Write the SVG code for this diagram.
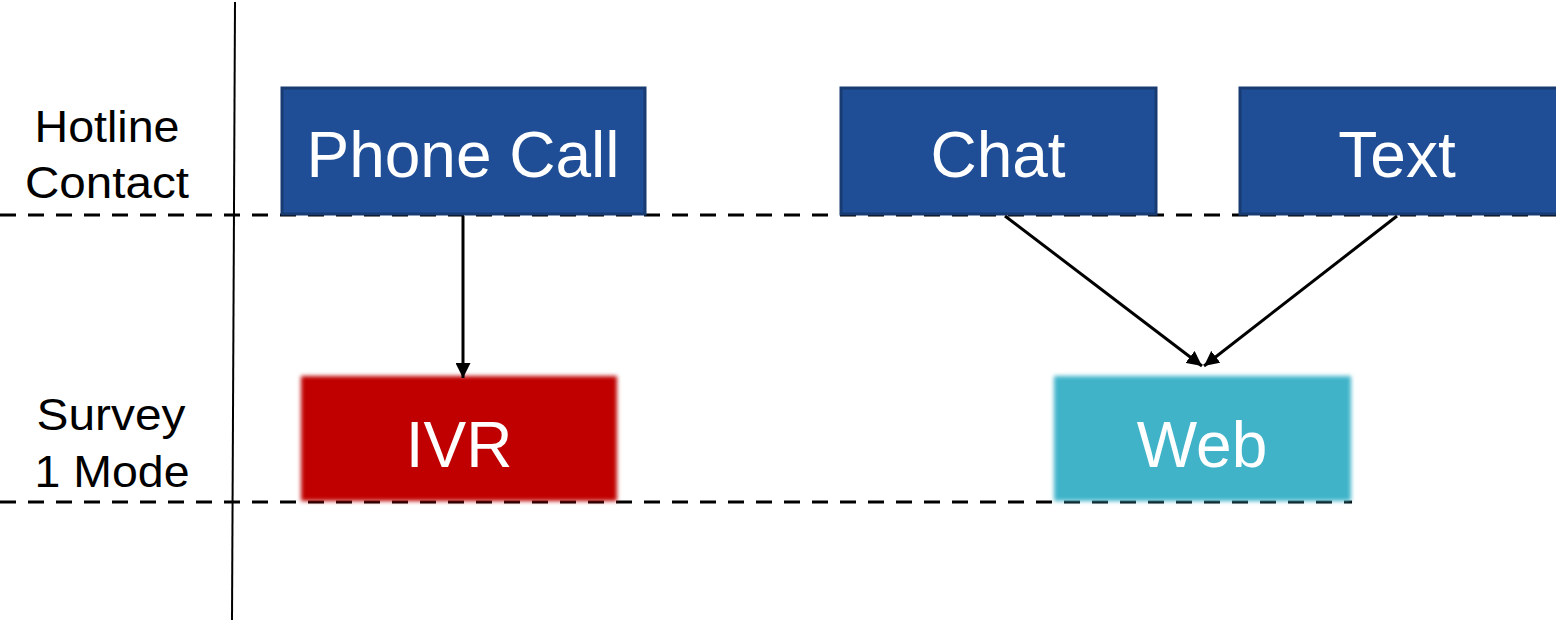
<svg xmlns="http://www.w3.org/2000/svg" width="1556" height="621" viewBox="0 0 1556 621">
<style>
.lbl{font-family:"Liberation Sans",Arial,sans-serif;font-size:45px;fill:#000;text-anchor:middle}
.nt{font-family:"Liberation Sans",Arial,sans-serif;font-size:64px;fill:#fff;text-anchor:middle}
.blue{fill:#1F4E96;stroke:#183B72;stroke-width:3}
.dash{stroke:#000;stroke-width:3;stroke-dasharray:16 12;fill:none}
.con{stroke:#000;stroke-width:3;fill:none}
</style>
<defs>
<marker id="ah" viewBox="0 0 10 10" refX="10" refY="5" markerWidth="5" markerHeight="5" markerUnits="strokeWidth" orient="auto">
<path d="M0,0 L10,5 L0,10 z" fill="#000"/>
</marker>
<filter id="soft" x="-5%" y="-5%" width="110%" height="110%">
<feGaussianBlur stdDeviation="2"/>
</filter>
</defs>
<rect width="1556" height="621" fill="#fff"/>
<g id="lanes">
<line x1="235" y1="2" x2="232" y2="620" stroke="#000" stroke-width="2"/>
<line class="dash" x1="0" y1="215" x2="1556" y2="215"/>
<line class="dash" x1="0" y1="502" x2="1352" y2="502"/>
<text class="lbl" x="107" y="142" textLength="145" lengthAdjust="spacingAndGlyphs">Hotline</text>
<text class="lbl" x="107" y="198" textLength="164" lengthAdjust="spacingAndGlyphs">Contact</text>
<text class="lbl" x="111" y="430" textLength="149" lengthAdjust="spacingAndGlyphs">Survey</text>
<text class="lbl" x="112" y="487" textLength="155" lengthAdjust="spacingAndGlyphs">1 Mode</text>
</g>
<g id="phone">
<rect class="blue" x="282" y="88" width="363" height="126"/>
<text class="nt" x="463" y="177">Phone Call</text>
</g>
<g id="chat">
<rect class="blue" x="841" y="88" width="315" height="126"/>
<text class="nt" x="998" y="177">Chat</text>
</g>
<g id="text">
<rect class="blue" x="1240" y="88" width="318" height="126"/>
<text class="nt" x="1397" y="177">Text</text>
</g>
<g id="ivr">
<rect x="301" y="376" width="316" height="125" fill="#C00000" filter="url(#soft)"/>
<text class="nt" x="459" y="467">IVR</text>
</g>
<g id="web">
<rect x="1054" y="376" width="297" height="125" fill="#40B3C9" filter="url(#soft)"/>
<text class="nt" x="1202" y="467">Web</text>
</g>
<g id="connectors">
<line class="con" x1="463" y1="216" x2="463" y2="378" marker-end="url(#ah)"/>
<line class="con" x1="1005" y1="216" x2="1202" y2="366" marker-end="url(#ah)"/>
<line class="con" x1="1397" y1="216" x2="1204" y2="366" marker-end="url(#ah)"/>
</g>
</svg>
